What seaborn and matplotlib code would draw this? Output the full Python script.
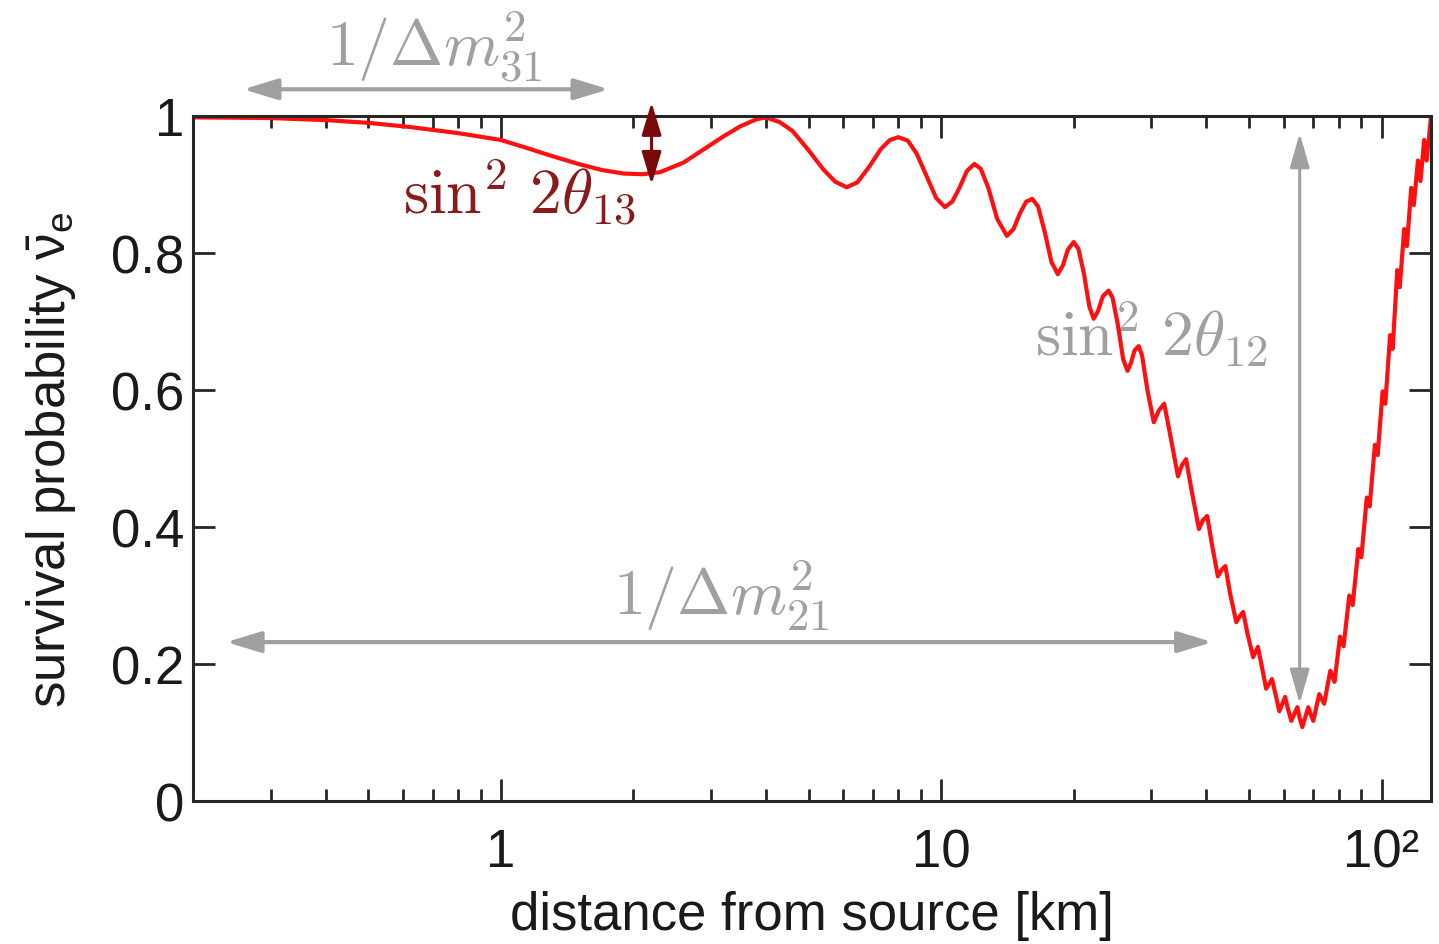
import matplotlib
matplotlib.use("Agg")
import matplotlib.pyplot as plt
import pandas as pd
import seaborn as sns
from matplotlib.ticker import FixedLocator, NullFormatter

# Reactor antineutrino survival probability versus baseline
distance_km = [
    0.20, 0.30, 0.40, 0.50, 0.62, 0.80, 1.00, 1.15, 1.30, 1.50, 1.70, 1.90,
    2.10, 2.30, 2.60, 2.90, 3.20, 3.50, 3.80,
    4.00, 4.30, 4.60, 5.00, 5.40, 5.75, 6.10, 6.45, 6.85, 7.30, 7.65, 8.00,
    8.40, 8.80, 9.30, 9.75, 10.20, 10.60, 11.00, 11.45, 11.90, 12.30, 12.80,
    13.40, 14.10, 14.60, 15.10, 15.60, 16.10, 16.60, 17.20, 17.80, 18.40,
    18.90, 19.40, 20.00, 20.50, 21.10, 21.70, 22.20, 22.70, 23.30, 24.00,
    24.50, 25.20, 25.90, 26.50, 27.00, 27.50, 28.10, 28.60, 29.40, 30.40,
    31.20, 32.10, 33.00, 34.50, 35.20, 36.00, 37.00, 38.50, 39.30, 40.20,
    41.20, 42.50, 43.40, 44.20, 45.30, 46.80, 47.70, 48.50, 49.60, 51.10,
    52.40, 53.50, 54.70, 56.40, 57.50, 58.60, 60.40, 61.40, 62.40, 64.40,
    65.20, 66.10, 68.20, 69.10, 70.00, 72.20, 73.10, 74.10, 76.50, 77.30,
    78.20, 80.50, 82.00, 84.50, 86.00, 88.60, 90.00, 92.60, 94.00, 96.60,
    98.00, 100.60, 102.00, 104.60, 106.00, 108.60, 110.00, 112.60, 114.20,
    116.80, 118.40, 121.00, 122.60, 125.00, 126.60, 129.50,
]
survival = [
    0.998, 0.997, 0.994, 0.990, 0.984, 0.975, 0.965, 0.953, 0.942, 0.930,
    0.921, 0.916, 0.915, 0.918, 0.932, 0.952, 0.970, 0.985, 0.995,
    0.998, 0.991, 0.978, 0.950, 0.922, 0.904, 0.896, 0.903, 0.925, 0.952,
    0.965, 0.969, 0.964, 0.945, 0.910, 0.880, 0.867, 0.875, 0.895, 0.920,
    0.930, 0.923, 0.895, 0.850, 0.825, 0.835, 0.858, 0.875, 0.879, 0.868,
    0.830, 0.787, 0.769, 0.782, 0.805, 0.816, 0.806, 0.770, 0.722, 0.704,
    0.715, 0.737, 0.745, 0.735, 0.695, 0.645, 0.628, 0.640, 0.658, 0.664,
    0.650, 0.600, 0.553, 0.570, 0.580, 0.540, 0.474, 0.490, 0.499, 0.455,
    0.397, 0.410, 0.416, 0.375, 0.328, 0.338, 0.343, 0.303, 0.261, 0.270,
    0.276, 0.245, 0.210, 0.225, 0.196, 0.164, 0.178, 0.155, 0.131, 0.152,
    0.133, 0.117, 0.137, 0.121, 0.108, 0.137, 0.126, 0.117, 0.156, 0.149,
    0.142, 0.190, 0.183, 0.174, 0.240, 0.226, 0.300, 0.286, 0.368, 0.356,
    0.443, 0.430, 0.520, 0.505, 0.598, 0.580, 0.680, 0.660, 0.775, 0.750,
    0.835, 0.810, 0.895, 0.870, 0.935, 0.905, 0.965, 0.935, 0.998,
]

y_ticks = [0, 0.2, 0.4, 0.6, 0.8, 1.0]
y_tick_labels = ["0", "0.2", "0.4", "0.6", "0.8", "1"]
x_major = [1, 10, 100]
x_major_labels = ["1", "10", "10²"]
x_minor = [0.3, 0.4, 0.5, 0.6, 0.7, 0.8, 0.9,
           2, 3, 4, 5, 6, 7, 8, 9,
           20, 30, 40, 50, 60, 70, 80, 90]

# Oscillation scales marked on the plot
theta13_at_km = 2.2
theta13_span = (1.02, 0.90)
theta12_at_km = 65.2
theta12_span = (0.975, 0.142)
dm31_span_km = (0.26, 1.76)
dm31_level = 1.039
dm21_span_km = (0.238, 41.3)
dm21_level = 0.232

sns.set_theme(style="ticks")
plt.rcParams["font.family"] = ["Liberation Sans", "DejaVu Sans"]
plt.rcParams.update({
    "mathtext.fontset": "custom",
    "mathtext.rm": "Liberation Sans",
    "mathtext.it": "Liberation Sans:italic",
    "mathtext.sf": "Liberation Sans",
    "mathtext.bf": "Liberation Sans:bold",
})

GRAY = "#a0a0a0"
DARK_RED = "#8b1a1a"
AXIS = "#262626"

fig = plt.figure(figsize=(14.39, 9.45), dpi=100)
ax = fig.add_axes([0.1341, 0.1513, 0.8603, 0.7249])
ax.set_xscale("log")

df = pd.DataFrame({"distance": distance_km, "survival": survival})
sns.lineplot(data=df, x="distance", y="survival", ax=ax, color="#ff1010",
             lw=3.0, estimator=None, sort=False, zorder=3)

ax.set_xlim(0.2, 129.5)
ax.set_ylim(0, 1)

ax.xaxis.set_major_locator(FixedLocator(x_major))
ax.set_xticklabels(x_major_labels)
ax.xaxis.set_minor_locator(FixedLocator(x_minor))
ax.xaxis.set_minor_formatter(NullFormatter())
ax.set_yticks(y_ticks)
ax.set_yticklabels(y_tick_labels)

for side in ["left", "right", "top", "bottom"]:
    ax.spines[side].set_visible(True)
    ax.spines[side].set_linewidth(2.2)
    ax.spines[side].set_color(AXIS)
    ax.spines[side].set_zorder(4)

ax.tick_params(which="both", direction="in", top=True, right=True,
               color=AXIS, width=2.0, labelsize=38, labelcolor="#1a1a1a")
ax.tick_params(which="major", length=16)
ax.tick_params(which="minor", length=8.5)
ax.tick_params(axis="x", which="major", pad=19)
ax.tick_params(axis="y", which="major", pad=6)

ax.set_xlabel("distance from source [km]", fontsize=38, color="#1a1a1a",
              labelpad=9)
ax.set_ylabel(r"survival probability $\bar{\mathrm{\nu}}_{\mathrm{e}}$",
              fontsize=38, color="#1a1a1a", labelpad=24)
ax.grid(False)

arrow_gray = dict(arrowstyle="<|-|>,head_length=1.05,head_width=0.32",
                  color=GRAY, lw=3.0, shrinkA=0, shrinkB=0, mutation_scale=20)
ax.annotate("", xy=(dm31_span_km[0], dm31_level),
            xytext=(dm31_span_km[1], dm31_level),
            arrowprops=arrow_gray, annotation_clip=False)
ax.annotate("", xy=(dm21_span_km[0], dm21_level),
            xytext=(dm21_span_km[1], dm21_level),
            arrowprops=arrow_gray, annotation_clip=False)
ax.annotate("", xy=(theta12_at_km, theta12_span[0]),
            xytext=(theta12_at_km, theta12_span[1]),
            arrowprops=dict(arrowstyle="<|-|>,head_length=1.05,head_width=0.3",
                            color=GRAY, lw=2.2, shrinkA=0, shrinkB=0,
                            mutation_scale=20),
            annotation_clip=False, zorder=2)
ax.annotate("", xy=(theta13_at_km, theta13_span[0]),
            xytext=(theta13_at_km, theta13_span[1]),
            arrowprops=dict(arrowstyle="<|-|>,head_length=1.0,head_width=0.3",
                            color="#7a0a0a", lw=2.2, shrinkA=0, shrinkB=0,
                            mutation_scale=20),
            annotation_clip=False, zorder=5)

label_kw = dict(ha="center", va="center", fontsize=46, math_fontfamily="cm",
                zorder=2)
ax.text(0.705, 1.102, r"$1/\Delta m^2_{31}$", color=GRAY, clip_on=False,
        **label_kw)
ax.text(3.16, 0.302, r"$1/\Delta m^2_{21}$", color=GRAY, **label_kw)
ax.text(1.10, 0.891, r"$\sin^2\,2\theta_{13}$", color=DARK_RED, **label_kw)
ax.text(30.0, 0.682, r"$\sin^2\,2\theta_{12}$", color=GRAY, **label_kw)

fig.savefig("out.png", dpi=100)
